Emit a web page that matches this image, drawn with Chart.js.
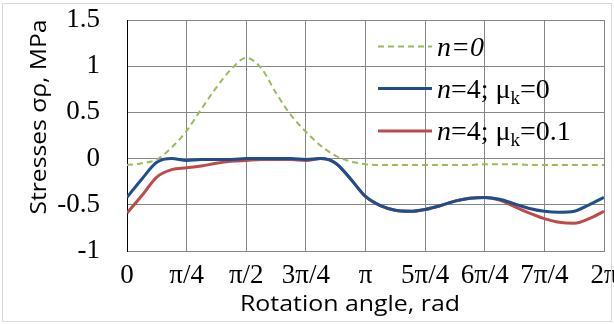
<!DOCTYPE html>
<html>
<head>
<meta charset="utf-8">
<script src="https://cdn.jsdelivr.net/npm/chart.js@4.4.1/dist/chart.umd.min.js"></script>
<style>
  html, body { margin: 0; padding: 0; background: #fff; }
  #wrap { position: relative; width: 614px; height: 324px; }
  #frame { position: absolute; left: 2px; top: 3px; width: 608px; height: 317px; border: 1px solid #d9d9d9; pointer-events: none; }
</style>
</head>
<body>
<div id="wrap">
  <canvas id="stressChart" width="614" height="324"></canvas>
  <div id="frame"></div>
</div>
<script>
// rotation angle in units of pi/4
const angle = [0, 0.25, 0.5, 0.75, 1, 1.25, 1.5, 1.75, 2, 2.25, 2.5, 2.75, 3, 3.25, 3.5, 3.75,
               4, 4.25, 4.5, 4.75, 5, 5.25, 5.5, 5.75, 6, 6.25, 6.5, 6.75, 7, 7.25, 7.5, 7.75, 8];

const stressN0 = [-0.07, -0.05, -0.01, 0.12, 0.3, 0.54, 0.77, 0.97, 1.09, 0.98, 0.71, 0.47, 0.29, 0.14, 0.03, -0.03,
                  -0.06, -0.07, -0.07, -0.07, -0.07, -0.07, -0.07, -0.07, -0.06, -0.06, -0.06, -0.07, -0.07, -0.07, -0.07, -0.07, -0.07];

const stressN4Mu0 = [-0.42, -0.22, -0.04, 0.0, -0.02, -0.01, -0.01, -0.01, 0.0, 0.0, 0.0, 0.0, -0.01, 0.0, -0.05, -0.22,
                     -0.41, -0.51, -0.56, -0.57, -0.55, -0.51, -0.46, -0.43, -0.42, -0.44, -0.49, -0.54, -0.57, -0.58, -0.57, -0.5, -0.42];

const stressN4Mu01 = [-0.59, -0.4, -0.2, -0.12, -0.1, -0.08, -0.05, -0.03, -0.02, -0.01, -0.01, -0.01, -0.02, 0.0, -0.05, -0.22,
                      -0.41, -0.51, -0.56, -0.57, -0.55, -0.51, -0.46, -0.43, -0.42, -0.45, -0.52, -0.59, -0.65, -0.69, -0.7, -0.65, -0.57];

const xTickLabels = ['0', 'π/4', 'π/2', '3π/4', 'π', '5π/4', '6π/4', '7π/4', '2π'];
const yTickLabels = {'1.5': '1.5', '1': '1', '0.5': '0.5', '0': '0', '-0.5': '-0.5', '-1': '-1'};

const GREEN = '#9bbb59';
const BLUE = '#1f4e8c';
const RED = '#be4b48';

function points(ys) {
    return angle.map((a, i) => ({ x: a, y: ys[i] }));
}

// legend with italic n and subscript k, drawn inside the plot
const legendItems = [
    { color: GREEN, dash: [6, 4], width: 2, parts: [['n=0', 'i']] },
    { color: BLUE, dash: [], width: 3, parts: [['n', 'i'], ['=4; μ', 'r'], ['k', 's'], ['=0', 'r']] },
    { color: RED, dash: [], width: 3, parts: [['n', 'i'], ['=4; μ', 'r'], ['k', 's'], ['=0.1', 'r']] }
];

// draw text stretched along its direction so it spans the given length
function fitText(ctx, text, len) {
    const w = ctx.measureText(text).width;
    ctx.save();
    ctx.scale(len / w, 1);
    ctx.fillText(text, 0, 0);
    ctx.restore();
}

const textPlugin = {
    id: 'texts',
    afterDraw(chart) {
        const ctx = chart.ctx;
        ctx.save();
        const rows = [46.5, 88.5, 131];
        legendItems.forEach((item, i) => {
            const y = rows[i];
            ctx.strokeStyle = item.color;
            ctx.lineWidth = item.width;
            ctx.setLineDash(item.dash);
            ctx.beginPath();
            ctx.moveTo(378, y);
            ctx.lineTo(432, y);
            ctx.stroke();
            ctx.setLineDash([]);
            let x = 437;
            ctx.fillStyle = '#000';
            ctx.textBaseline = 'alphabetic';
            ctx.textAlign = 'left';
            item.parts.forEach(([t, style]) => {
                let dy = 0;
                if (style === 'i') ctx.font = 'italic 28px "Liberation Serif"';
                else if (style === 's') { ctx.font = '19px "Liberation Serif"'; dy = 6; }
                else ctx.font = '28px "Liberation Serif"';
                ctx.fillText(t, x, y + 9 + dy);
                x += ctx.measureText(t).width;
            });
        });

        // axis titles
        ctx.fillStyle = '#000';
        ctx.font = '22px "Open Sans"';
        ctx.textAlign = 'center';
        ctx.textBaseline = 'middle';
        ctx.save();
        ctx.translate(350, 305);
        fitText(ctx, 'Rotation angle, rad', 220);
        ctx.restore();
        ctx.translate(40, 117);
        ctx.rotate(-Math.PI / 2);
        fitText(ctx, 'Stresses σρ, MPa', 195);
        ctx.restore();
    }
};

new Chart(document.getElementById('stressChart'), {
    type: 'line',
    data: {
        datasets: [
            { label: 'n=0', data: points(stressN0), borderColor: GREEN, borderWidth: 2, borderDash: [6, 4], pointRadius: 0, tension: 0.4, cubicInterpolationMode: 'monotone' },
            { label: 'n=4; μk=0', data: points(stressN4Mu0), borderColor: BLUE, borderWidth: 3, pointRadius: 0, tension: 0.4, cubicInterpolationMode: 'monotone' },
            { label: 'n=4; μk=0.1', data: points(stressN4Mu01), borderColor: RED, borderWidth: 3, pointRadius: 0, tension: 0.4, cubicInterpolationMode: 'monotone' }
        ]
    },
    options: {
        responsive: false,
        animation: false,
        layout: { padding: { top: 20, right: 10, left: 0, bottom: 0 } },
        plugins: { legend: { display: false }, tooltip: { enabled: false } },
        scales: {
            x: {
                type: 'linear', min: 0, max: 8,
                ticks: {
                    stepSize: 1, color: '#000', padding: 9, maxRotation: 0, autoSkip: false,
                    font: { family: 'Liberation Serif', size: 27 },
                    callback: v => xTickLabels[v]
                },
                grid: { color: '#868686', lineWidth: 1, drawTicks: false },
                border: { color: '#868686' },
                afterFit(scale) { scale.height = 73; scale.paddingLeft = 0; scale.paddingRight = 0; }
            },
            y: {
                min: -1, max: 1.5,
                ticks: {
                    stepSize: 0.5, color: '#000', padding: 27,
                    font: { family: 'Liberation Serif', size: 27 },
                    callback: v => yTickLabels[String(v)]
                },
                grid: { color: '#868686', lineWidth: 1, drawTicks: false },
                border: { color: '#000' },
                afterFit(scale) { scale.width = 127; scale.paddingTop = 0; scale.paddingBottom = 0; }
            }
        }
    },
    plugins: [textPlugin]
});
</script>
</body>
</html>
